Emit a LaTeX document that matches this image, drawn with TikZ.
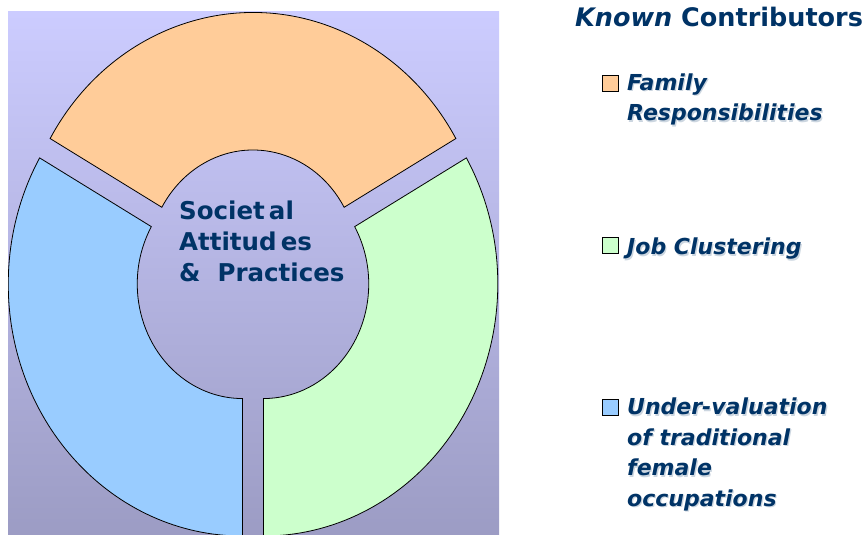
\documentclass[tikz,border=0pt]{standalone}
\usepackage{fontspec}
\setmainfont{DejaVu Sans}
\usepackage{tikz}
\usepackage{xcolor}
\definecolor{navy}{HTML}{003366}
\definecolor{orangepart}{HTML}{FFCC99}
\definecolor{greenpart}{HTML}{CCFFCC}
\definecolor{bluepart}{HTML}{99CCFF}
\definecolor{bgtop}{HTML}{CCCCFF}
\definecolor{bgbottom}{HTML}{9C9CC4}
\tikzset{
    ringedge/.style={draw=black,line width=0.8pt},
    keybox/.style={draw=black,line width=1pt,minimum size=16pt,inner sep=0pt},
    keytext/.style={text=navy,align=left,inner sep=0pt,anchor=base west,
        font=\fontsize{22}{30.5}\selectfont\bfseries\itshape},
}
% one piece of the ring: centre x, centre y, from angle, to angle, colour
\newcommand{\ringpart}[5] {
    \draw[ringedge,fill=#5,shift={(#1,#2)}]
        (#3:105.25pt and 114.6pt)
        arc[start angle=#3,end angle=#4,x radius=105.25pt,y radius=114.6pt]
        -- (#4:234.25pt and 252.1pt)
        arc[start angle=#4,end angle=#3,x radius=234.25pt,y radius=252.1pt]
        -- cycle;
}
% one line of the key: box height, last baseline, colour, name, text
\newcommand{\legenditem}[5] {
    \node[keybox,fill=#3] (#4box) at (610,#1) {};
    \node[keytext,text=navy!20] (#4shadow) at (628.2,{#2-1.2}) {#5};
    \node[keytext] (#4) at (627,#2) {#5};
}

\begin{document}
\begin{tikzpicture}[x=1pt,y=1pt]
    \useasboundingbox (0,0) rectangle (865,535);
    \shade[top color=bgtop,bottom color=bgbottom] (8,0) rectangle (499,523);
    \begin{scope}
        \clip (8,0) rectangle (499,523);
        \ringpart{253}{270.4}{30}{150}{orangepart};
        \ringpart{263.5}{251.05}{-90}{30}{greenpart};
        \ringpart{242.5}{251.05}{150}{270}{bluepart};
    \end{scope}
    \node[text=navy,align=left,inner sep=0pt,anchor=base west,
        font=\fontsize{24.5}{31}\selectfont\bfseries]
        (society) at (179,253) {Societ\,al\\Attitud\,es\\\&\ \ Practices};
    \node[text=navy,inner sep=0pt,anchor=base west,
        font=\fontsize{25.5}{30}\selectfont\bfseries]
        (title) at (575,508) {\textit{Known} Contributors};
    \legenditem{451}{414}{orangepart}{family}{Family\\Responsibilities};
    \legenditem{289}{280}{greenpart}{clustering}{Job Clustering};
    \legenditem{127.5}{28.5}{bluepart}{valuation}{Under-valuation\\of traditional\\female\\occupations};
\end{tikzpicture}
\end{document}
